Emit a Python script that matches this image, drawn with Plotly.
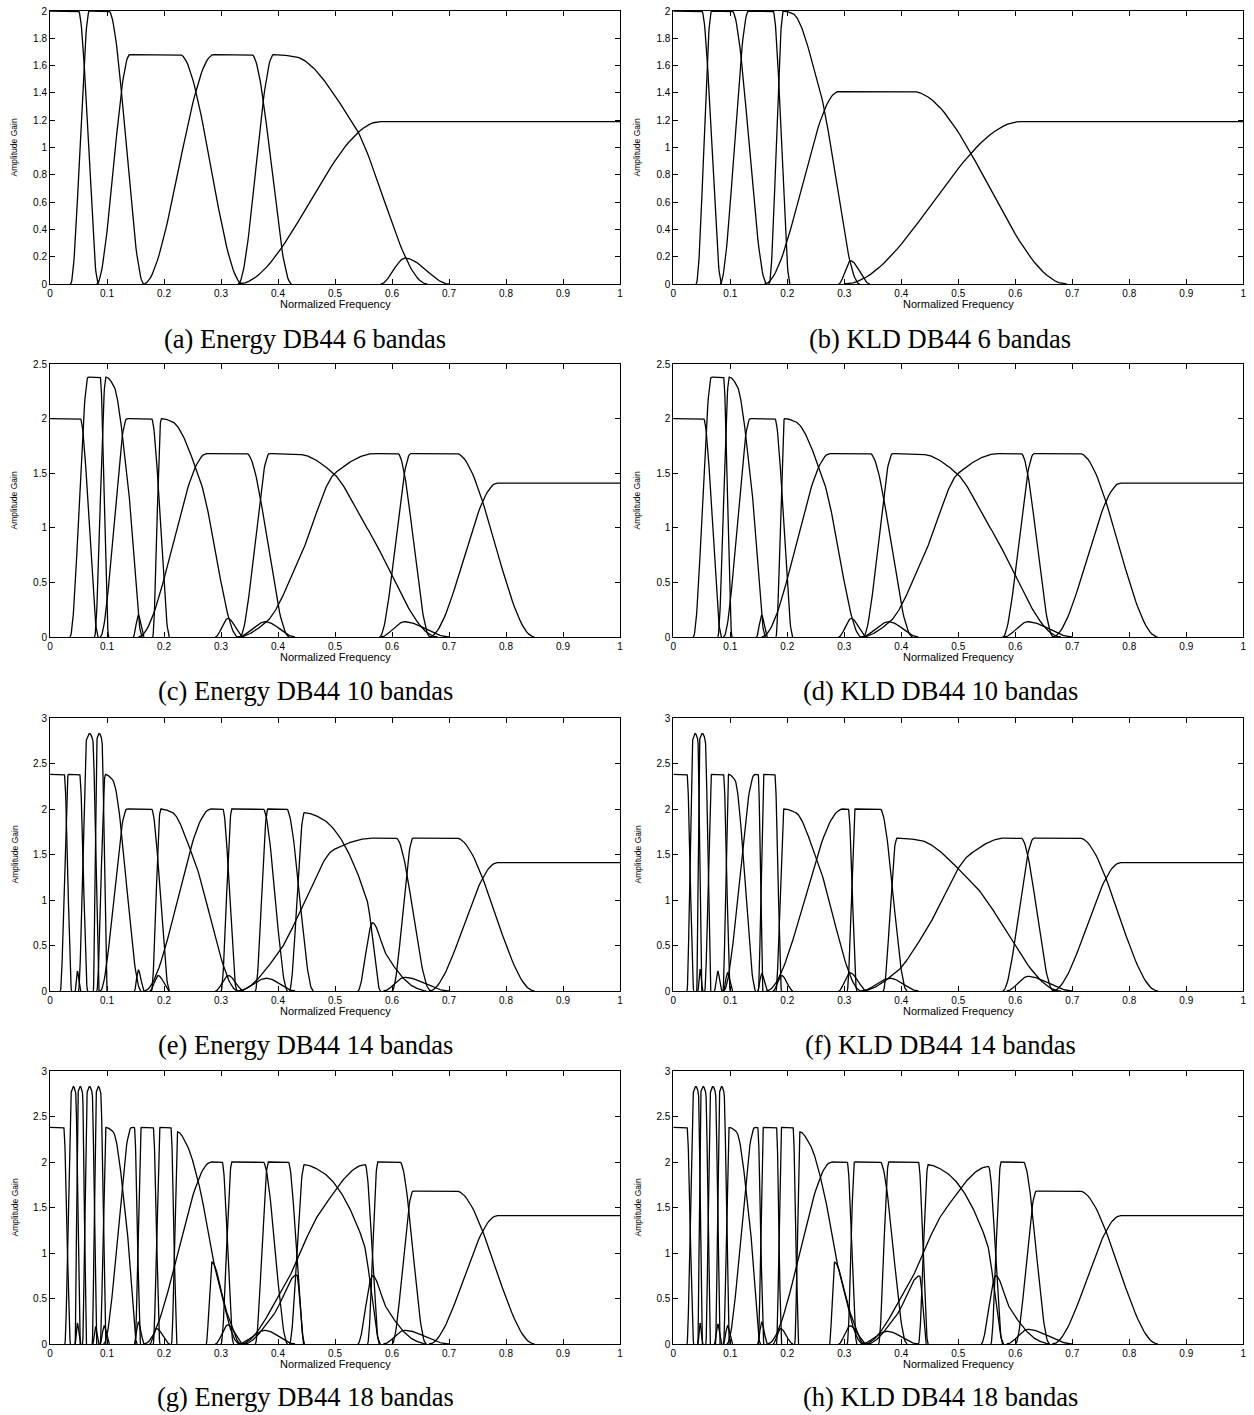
import numpy as np
import plotly.graph_objects as go

# Each filter response is described by its corner points (frequency, gain);
# the passbands are joined by smooth monotone transitions.

freq_ticks = [0, 0.1, 0.2, 0.3, 0.4, 0.5, 0.6, 0.7, 0.8, 0.9, 1]

energy_6 = [
    [(0.0, 2.0), (0.05, 2.0), (0.085, 0.0)],
    [(0.036, 0.0), (0.069, 2.0), (0.103, 2.0), (0.165, 0.0)],
    [(0.082, 0.0), (0.14, 1.68), (0.228, 1.68), (0.338, 0.0)],
    [(0.164, 0.0), (0.287, 1.68), (0.354, 1.68), (0.424, 0.0)],
    [(0.33, 0.0), (0.392, 1.68), (0.43, 1.665), (0.53, 1.19), (0.662, 0.0)],
    [(0.33, 0.0), (0.58, 1.19), (1.0, 1.19)],
    [(0.58, 0.0), (0.623, 0.19), (0.70, 0.0)],
]

kld_6 = [
    [(0.0, 2.0), (0.05, 2.0), (0.085, 0.0)],
    [(0.04, 0.0), (0.067, 2.0), (0.103, 2.0), (0.164, 0.0)],
    [(0.082, 0.0), (0.132, 2.0), (0.175, 2.0), (0.205, 0.0)],
    [(0.168, 0.0), (0.193, 2.0), (0.21, 1.98), (0.257, 1.42), (0.327, 0.0)],
    [(0.16, 0.0), (0.29, 1.41), (0.42, 1.41), (0.69, 0.0)],
    [(0.30, 0.0), (0.61, 1.19), (1.0, 1.19)],
    [(0.29, 0.0), (0.311, 0.17), (0.345, 0.0)],
]

energy_10 = [
    [(0.0, 2.0), (0.053, 2.0), (0.085, 0.0)],
    [(0.035, 0.0), (0.067, 2.38), (0.088, 2.38), (0.103, 0.0)],
    [(0.078, 0.0), (0.098, 2.38), (0.112, 2.3), (0.135, 1.5), (0.162, 0.0)],
    [(0.088, 0.0), (0.135, 2.0), (0.178, 2.0), (0.21, 0.0)],
    [(0.18, 0.0), (0.195, 2.0), (0.215, 1.97), (0.263, 1.44), (0.33, 0.0)],
    [(0.155, 0.0), (0.275, 1.68), (0.345, 1.68), (0.42, 0.0)],
    [(0.333, 0.0), (0.385, 1.68), (0.44, 1.67), (0.497, 1.5), (0.556, 1.0), (0.68, 0.0)],
    [(0.33, 0.0), (0.38, 0.14), (0.44, 0.75), (0.5, 1.5), (0.57, 1.68), (0.61, 1.68), (0.667, 0.0)],
    [(0.578, 0.0), (0.633, 1.68), (0.713, 1.68), (0.85, 0.0)],
    [(0.665, 0.0), (0.785, 1.41), (1.0, 1.41)],
    [(0.146, 0.0), (0.155, 0.2), (0.165, 0.0)],
    [(0.29, 0.0), (0.312, 0.17), (0.34, 0.0)],
    [(0.33, 0.0), (0.378, 0.14), (0.43, 0.0)],
    [(0.58, 0.0), (0.622, 0.14), (0.70, 0.0)],
]

kld_10 = [
    [(0.0, 2.0), (0.053, 2.0), (0.085, 0.0)],
    [(0.035, 0.0), (0.067, 2.38), (0.088, 2.38), (0.103, 0.0)],
    [(0.078, 0.0), (0.098, 2.38), (0.112, 2.3), (0.135, 1.5), (0.162, 0.0)],
    [(0.088, 0.0), (0.135, 2.0), (0.178, 2.0), (0.21, 0.0)],
    [(0.18, 0.0), (0.195, 2.0), (0.215, 1.97), (0.263, 1.44), (0.33, 0.0)],
    [(0.155, 0.0), (0.275, 1.68), (0.345, 1.68), (0.42, 0.0)],
    [(0.333, 0.0), (0.385, 1.68), (0.44, 1.67), (0.497, 1.5), (0.556, 1.0), (0.68, 0.0)],
    [(0.33, 0.0), (0.38, 0.14), (0.44, 0.75), (0.5, 1.5), (0.57, 1.68), (0.61, 1.68), (0.667, 0.0)],
    [(0.578, 0.0), (0.633, 1.68), (0.713, 1.68), (0.85, 0.0)],
    [(0.665, 0.0), (0.785, 1.41), (1.0, 1.41)],
    [(0.146, 0.0), (0.155, 0.2), (0.165, 0.0)],
    [(0.29, 0.0), (0.312, 0.17), (0.34, 0.0)],
    [(0.33, 0.0), (0.378, 0.14), (0.43, 0.0)],
    [(0.58, 0.0), (0.622, 0.14), (0.70, 0.0)],
]

energy_14 = [
    [(0.0, 2.38), (0.025, 2.38), (0.038, 0.0)],
    [(0.018, 0.0), (0.032, 2.38), (0.052, 2.38), (0.066, 0.0)],
    [(0.05, 0.0), (0.064, 2.76), (0.0695, 2.83), (0.075, 2.76), (0.086, 0.0)],
    [(0.076, 0.0), (0.082, 2.76), (0.0865, 2.83), (0.091, 2.76), (0.1, 0.0)],
    [(0.082, 0.0), (0.097, 2.38), (0.11, 2.32), (0.16, 0.0)],
    [(0.088, 0.0), (0.135, 2.0), (0.178, 2.0), (0.21, 0.0)],
    [(0.178, 0.0), (0.194, 2.0), (0.215, 1.96), (0.249, 1.51), (0.33, 0.0)],
    [(0.165, 0.0), (0.282, 2.0), (0.303, 2.0), (0.328, 0.0)],
    [(0.30, 0.0), (0.319, 2.0), (0.374, 2.0), (0.417, 0.0)],
    [(0.36, 0.0), (0.382, 2.0), (0.415, 2.0), (0.462, 0.0)],
    [(0.42, 0.0), (0.446, 1.96), (0.475, 1.9), (0.556, 1.0), (0.58, 0.0)],
    [(0.33, 0.0), (0.40, 0.41), (0.44, 0.88), (0.497, 1.55), (0.567, 1.68), (0.607, 1.68), (0.668, 0.0)],
    [(0.60, 0.0), (0.637, 1.68), (0.713, 1.68), (0.85, 0.0)],
    [(0.665, 0.0), (0.785, 1.41), (1.0, 1.41)],
    [(0.54, 0.0), (0.566, 0.75), (0.59, 0.4), (0.64, 0.04), (0.66, 0.0)],
    [(0.044, 0.0), (0.048, 0.22), (0.054, 0.0)],
    [(0.148, 0.0), (0.155, 0.23), (0.165, 0.0)],
    [(0.175, 0.0), (0.19, 0.17), (0.21, 0.0)],
    [(0.29, 0.0), (0.313, 0.17), (0.34, 0.0)],
    [(0.33, 0.0), (0.38, 0.14), (0.43, 0.0)],
    [(0.585, 0.0), (0.622, 0.15), (0.70, 0.0)],
]

kld_14 = [
    [(0.0, 2.38), (0.024, 2.38), (0.036, 0.0)],
    [(0.024, 0.0), (0.034, 2.76), (0.0385, 2.83), (0.043, 2.76), (0.05, 0.0)],
    [(0.041, 0.0), (0.046, 2.76), (0.051, 2.83), (0.056, 2.76), (0.066, 0.0)],
    [(0.055, 0.0), (0.067, 2.38), (0.088, 2.38), (0.1, 0.0)],
    [(0.087, 0.0), (0.097, 2.38), (0.108, 2.32), (0.145, 0.0)],
    [(0.088, 0.0), (0.143, 2.38), (0.149, 2.38), (0.157, 0.0)],
    [(0.149, 0.0), (0.159, 2.38), (0.178, 2.38), (0.19, 0.0)],
    [(0.18, 0.0), (0.194, 2.0), (0.215, 1.96), (0.249, 1.5), (0.33, 0.0)],
    [(0.163, 0.0), (0.297, 2.0), (0.307, 2.0), (0.322, 0.0)],
    [(0.305, 0.0), (0.319, 2.0), (0.363, 2.0), (0.41, 0.0)],
    [(0.368, 0.0), (0.392, 1.68), (0.43, 1.66), (0.52, 1.22), (0.68, 0.0)],
    [(0.33, 0.0), (0.39, 0.2), (0.44, 0.63), (0.52, 1.5), (0.58, 1.68), (0.61, 1.68), (0.667, 0.0)],
    [(0.578, 0.0), (0.633, 1.68), (0.713, 1.68), (0.85, 0.0)],
    [(0.665, 0.0), (0.785, 1.41), (1.0, 1.41)],
    [(0.043, 0.0), (0.047, 0.24), (0.052, 0.0)],
    [(0.072, 0.0), (0.078, 0.22), (0.085, 0.0)],
    [(0.088, 0.0), (0.095, 0.2), (0.104, 0.0)],
    [(0.148, 0.0), (0.155, 0.19), (0.165, 0.0)],
    [(0.175, 0.0), (0.19, 0.17), (0.21, 0.0)],
    [(0.29, 0.0), (0.31, 0.2), (0.34, 0.0)],
    [(0.33, 0.0), (0.38, 0.14), (0.43, 0.0)],
    [(0.585, 0.0), (0.622, 0.16), (0.70, 0.0)],
]

energy_18 = [
    [(0.0, 2.38), (0.024, 2.38), (0.036, 0.0)],
    [(0.026, 0.0), (0.037, 2.76), (0.041, 2.83), (0.045, 2.76), (0.053, 0.0)],
    [(0.044, 0.0), (0.049, 2.76), (0.053, 2.83), (0.057, 2.76), (0.064, 0.0)],
    [(0.057, 0.0), (0.065, 2.76), (0.0695, 2.83), (0.074, 2.76), (0.082, 0.0)],
    [(0.074, 0.0), (0.081, 2.76), (0.085, 2.83), (0.089, 2.76), (0.098, 0.0)],
    [(0.088, 0.0), (0.098, 2.38), (0.111, 2.33), (0.134, 1.34), (0.153, 0.0)],
    [(0.094, 0.0), (0.143, 2.38), (0.148, 2.38), (0.159, 0.0)],
    [(0.149, 0.0), (0.16, 2.38), (0.181, 2.38), (0.193, 0.0)],
    [(0.181, 0.0), (0.193, 2.38), (0.212, 2.38), (0.223, 0.0)],
    [(0.213, 0.0), (0.224, 2.33), (0.24, 2.19), (0.263, 1.71), (0.287, 0.9), (0.333, 0.0)],
    [(0.165, 0.0), (0.283, 2.0), (0.302, 2.0), (0.322, 0.0)],
    [(0.30, 0.0), (0.319, 2.0), (0.374, 2.0), (0.417, 0.0)],
    [(0.36, 0.0), (0.383, 2.0), (0.418, 2.0), (0.447, 0.0)],
    [(0.42, 0.0), (0.446, 1.97), (0.475, 1.9), (0.55, 1.12), (0.58, 0.0)],
    [(0.335, 0.0), (0.409, 0.61), (0.474, 1.45), (0.553, 1.97), (0.578, 0.0)],
    [(0.557, 0.0), (0.575, 2.0), (0.614, 2.0), (0.66, 0.0)],
    [(0.60, 0.0), (0.637, 1.68), (0.713, 1.68), (0.85, 0.0)],
    [(0.665, 0.0), (0.785, 1.41), (1.0, 1.41)],
    [(0.274, 0.0), (0.284, 0.9), (0.31, 0.35), (0.335, 0.0)],
    [(0.34, 0.0), (0.392, 0.32), (0.433, 0.76), (0.445, 0.0)],
    [(0.54, 0.0), (0.566, 0.75), (0.59, 0.4), (0.64, 0.04), (0.66, 0.0)],
    [(0.044, 0.0), (0.048, 0.23), (0.054, 0.0)],
    [(0.075, 0.0), (0.08, 0.19), (0.086, 0.0)],
    [(0.088, 0.0), (0.095, 0.2), (0.104, 0.0)],
    [(0.148, 0.0), (0.155, 0.24), (0.165, 0.0)],
    [(0.175, 0.0), (0.187, 0.17), (0.21, 0.0)],
    [(0.29, 0.0), (0.312, 0.21), (0.34, 0.0)],
    [(0.33, 0.0), (0.377, 0.15), (0.43, 0.0)],
    [(0.585, 0.0), (0.622, 0.15), (0.70, 0.0)],
]

kld_18 = [
    [(0.0, 2.38), (0.024, 2.38), (0.036, 0.0)],
    [(0.024, 0.0), (0.035, 2.76), (0.0395, 2.83), (0.044, 2.76), (0.051, 0.0)],
    [(0.043, 0.0), (0.048, 2.76), (0.0525, 2.83), (0.057, 2.76), (0.065, 0.0)],
    [(0.057, 0.0), (0.065, 2.76), (0.0695, 2.83), (0.074, 2.76), (0.082, 0.0)],
    [(0.074, 0.0), (0.081, 2.76), (0.085, 2.83), (0.089, 2.76), (0.098, 0.0)],
    [(0.088, 0.0), (0.098, 2.38), (0.111, 2.33), (0.134, 1.34), (0.153, 0.0)],
    [(0.094, 0.0), (0.143, 2.38), (0.148, 2.38), (0.159, 0.0)],
    [(0.149, 0.0), (0.158, 2.38), (0.181, 2.38), (0.19, 0.0)],
    [(0.181, 0.0), (0.19, 2.38), (0.21, 2.38), (0.22, 0.0)],
    [(0.213, 0.0), (0.222, 2.33), (0.24, 2.19), (0.263, 1.71), (0.287, 0.9), (0.333, 0.0)],
    [(0.165, 0.0), (0.278, 2.0), (0.305, 2.0), (0.322, 0.0)],
    [(0.305, 0.0), (0.318, 2.0), (0.363, 2.0), (0.41, 0.0)],
    [(0.36, 0.0), (0.378, 2.0), (0.43, 2.0), (0.447, 0.0)],
    [(0.43, 0.0), (0.447, 1.97), (0.475, 1.9), (0.55, 1.12), (0.58, 0.0)],
    [(0.335, 0.0), (0.409, 0.61), (0.474, 1.45), (0.553, 1.95), (0.578, 0.0)],
    [(0.557, 0.0), (0.575, 2.0), (0.614, 2.0), (0.66, 0.0)],
    [(0.60, 0.0), (0.637, 1.68), (0.713, 1.68), (0.85, 0.0)],
    [(0.665, 0.0), (0.785, 1.41), (1.0, 1.41)],
    [(0.274, 0.0), (0.283, 0.9), (0.31, 0.35), (0.335, 0.0)],
    [(0.34, 0.0), (0.392, 0.32), (0.432, 0.75), (0.444, 0.0)],
    [(0.54, 0.0), (0.566, 0.75), (0.59, 0.4), (0.64, 0.04), (0.66, 0.0)],
    [(0.043, 0.0), (0.047, 0.23), (0.052, 0.0)],
    [(0.072, 0.0), (0.078, 0.22), (0.085, 0.0)],
    [(0.088, 0.0), (0.095, 0.2), (0.104, 0.0)],
    [(0.148, 0.0), (0.155, 0.24), (0.165, 0.0)],
    [(0.175, 0.0), (0.188, 0.17), (0.21, 0.0)],
    [(0.29, 0.0), (0.31, 0.2), (0.34, 0.0)],
    [(0.33, 0.0), (0.375, 0.14), (0.43, 0.0)],
    [(0.585, 0.0), (0.622, 0.16), (0.70, 0.0)],
]

captions = [
    "(a) Energy DB44 6 bandas", "(b) KLD DB44 6 bandas",
    "(c) Energy DB44 10 bandas", "(d) KLD DB44 10 bandas",
    "(e) Energy DB44 14 bandas", "(f) KLD DB44 14 bandas",
    "(g) Energy DB44 18 bandas", "(h) KLD DB44 18 bandas",
]
responses = [energy_6, kld_6, energy_10, kld_10, energy_14, kld_14, energy_18, kld_18]
gain_max = [2, 2, 2.5, 2.5, 3, 3, 3, 3]
gain_step = [0.2, 0.2, 0.5, 0.5, 0.5, 0.5, 0.5, 0.5]


def smooth_curve(knots, per_seg=40):
    """Monotone cubic Hermite path through the corner points."""
    x = np.array([k[0] for k in knots], float)
    y = np.array([k[1] for k in knots], float)
    n = len(x)
    h = np.diff(x)
    d = np.diff(y) / h
    m = np.zeros(n)
    for k in range(1, n - 1):
        if d[k - 1] * d[k] > 0:
            w1 = 2 * h[k] + h[k - 1]
            w2 = h[k] + 2 * h[k - 1]
            m[k] = (w1 + w2) / (w1 / d[k - 1] + w2 / d[k])
    xs, ys = [], []
    for k in range(n - 1):
        t = np.linspace(0, 1, per_seg, endpoint=(k == n - 2))
        h00 = 2 * t**3 - 3 * t**2 + 1
        h10 = t**3 - 2 * t**2 + t
        h01 = -2 * t**3 + 3 * t**2
        h11 = t**3 - t**2
        ys.append(h00 * y[k] + h10 * h[k] * m[k] + h01 * y[k + 1] + h11 * h[k] * m[k + 1])
        xs.append(x[k] + t * h[k])
    return np.concatenate(xs), np.concatenate(ys)


W, H = 1254, 1415
col_px = [(50, 620), (673.3, 1243.3)]
row_px = [(11, 284), (364, 637), (718, 991), (1071, 1344)]
caption_y = [339, 691, 1045, 1397]
caption_x = [305, 940]
ytitle_x = [14, 637]

sans = "Liberation Sans, Arial, Helvetica, sans-serif"
fig = go.Figure()
tick_font = dict(family=sans, size=10, color="black")
layout = {}
annotations = []

for i, (cap, curves) in enumerate(zip(captions, responses)):
    r, c = divmod(i, 2)
    ax = "" if i == 0 else str(i + 1)
    xdom = [col_px[c][0] / W, col_px[c][1] / W]
    ydom = [1 - row_px[r][1] / H, 1 - row_px[r][0] / H]
    for knots in curves:
        xs, ys = smooth_curve(knots)
        fig.add_trace(go.Scatter(
            x=xs, y=ys, mode="lines", xaxis="x" + ax, yaxis="y" + ax,
            line=dict(color="black", width=1.3), showlegend=False, hoverinfo="skip",
        ))
    layout["xaxis" + ax] = dict(
        domain=xdom, anchor="y" + ax, range=[0, 1], tickmode="array",
        tickvals=freq_ticks, ticktext=[("%g" % v) for v in freq_ticks],
        ticks="inside", ticklen=5, tickwidth=1, tickcolor="black",
        showline=True, linecolor="black", linewidth=1, mirror="ticks",
        showgrid=False, zeroline=False, tickfont=tick_font, automargin=False,
    )
    layout["yaxis" + ax] = dict(
        domain=ydom, anchor="x" + ax, range=[0, gain_max[i]], dtick=gain_step[i], tick0=0,
        ticks="inside", ticklen=5, tickwidth=1, tickcolor="black",
        showline=True, linecolor="black", linewidth=1, mirror="ticks",
        showgrid=False, zeroline=False, tickfont=tick_font, automargin=False,
    )
    # axis titles
    annotations.append(dict(
        text="Normalized Frequency", xref="paper", yref="paper",
        x=(col_px[c][0] + col_px[c][1]) / 2 / W, y=1 - (row_px[r][1] + 20) / H,
        xanchor="center", yanchor="middle", showarrow=False,
        font=dict(family=sans, size=11, color="black"),
    ))
    annotations.append(dict(
        text="Amplitude Gain", xref="paper", yref="paper", textangle=-90,
        x=ytitle_x[c] / W, y=1 - (row_px[r][0] + row_px[r][1]) / 2 / H,
        xanchor="center", yanchor="middle", showarrow=False,
        font=dict(family=sans, size=8.5, color="black"),
    ))
    # sub-figure caption
    annotations.append(dict(
        text=cap, xref="paper", yref="paper", x=caption_x[c] / W, y=1 - caption_y[r] / H,
        xanchor="center", yanchor="middle", showarrow=False,
        font=dict(family="Liberation Serif, Times New Roman, serif", size=26.5, color="black"),
    ))

fig.update_layout(
    width=W, height=H, margin=dict(l=0, r=0, t=0, b=0),
    paper_bgcolor="white", plot_bgcolor="white", annotations=annotations, **layout,
)
fig.write_html("out.html")
